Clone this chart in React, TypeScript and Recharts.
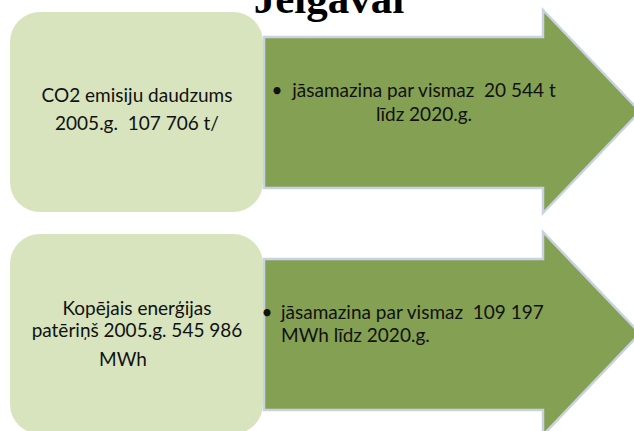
import { BarChart, Bar, XAxis, YAxis } from "recharts"

const title = "Jelgavai"
const rowIds = ["co2", "energy"]
const baseLines = [
  ["CO2 emisiju daudzums", "2005.g.  107 706 t/"],
  ["Kopējais enerģijas", "patēriņš 2005.g. 545 986", "MWh"],
]
const targetLines = [
  ["jāsamazina par vismaz  20 544 t", "līdz 2020.g."],
  ["jāsamazina par vismaz  109 197", "MWh līdz 2020.g."],
]

const data = rowIds.map((id, i) => ({ id, base: baseLines[i], target: targetLines[i] }))

// per-row text placement (offsets from the top of each row band)
const layout = [
  { boxY: [92, 120], boxX: [137, 137], arrowY: [87, 111], bulletX: 277, textX: 424, anchor: "middle" },
  { boxY: [83, 105, 134], boxX: [137, 137, 123], arrowY: [87, 110], bulletX: 267, textX: 281, anchor: "start" },
]

const FONT = "Lato, 'Open Sans', sans-serif"

function RowShape(props: any) {
  const { y, height, index, payload } = props
  const top = y
  const bottom = y + height
  const cy = top + height / 2
  const shaftX = 264
  const headX = 543
  const tipX = 640
  const shaftTop = top + 27
  const shaftBot = bottom - 25
  const L = layout[index]
  const arrow = `M${shaftX},${shaftTop} L${headX},${shaftTop} L${headX},${top} L${tipX},${cy} L${headX},${bottom} L${headX},${shaftBot} L${shaftX},${shaftBot} Z`
  return (
    <g>
      <path d={arrow} fill="#84a052" stroke="#c8d2e2" strokeWidth={2.5} strokeLinejoin="miter" />
      <rect x={10} y={top + 2} width={253} height={height - 3} rx={30} ry={30} fill="#d7e4bd" />
      {payload.base.map((t: string, k: number) => (
        <text key={k} x={L.boxX[k]} y={top + L.boxY[k]} textAnchor="middle" fontSize={19}
          fontFamily={FONT} fill="#111" style={{ whiteSpace: "pre" }}>{t}</text>
      ))}
      <text x={L.bulletX} y={top + L.arrowY[0]} textAnchor="middle" fontSize={19} fontFamily={FONT} fill="#111">•</text>
      {payload.target.map((t: string, k: number) => (
        <text key={k} x={L.textX} y={top + L.arrowY[k]} textAnchor={L.anchor} fontSize={19}
          fontFamily={FONT} fill="#111" style={{ whiteSpace: "pre" }}>{t}</text>
      ))}
    </g>
  )
}

export default function App() {
  return (
    <div style={{ position: "absolute", left: 0, top: 0, width: 634, height: 431, overflow: "hidden", background: "#fff" }}>
      <BarChart layout="vertical" width={634} height={444} data={data} barSize={203}
        margin={{ top: 0, right: 0, bottom: 0, left: 0 }}>
        <XAxis type="number" hide domain={[0, 1]} />
        <YAxis type="category" dataKey="id" hide />
        <Bar dataKey={() => 1} shape={RowShape} isAnimationActive={false} />
      </BarChart>
      <svg width={634} height={40} style={{ position: "absolute", left: 0, top: 0, pointerEvents: "none" }}>
        <text x={329} y={13} textAnchor="middle" fontSize={43} fontWeight="bold"
          fontFamily="'Liberation Serif', 'Times New Roman', serif" fill="#000">{title}</text>
      </svg>
    </div>
  )
}
